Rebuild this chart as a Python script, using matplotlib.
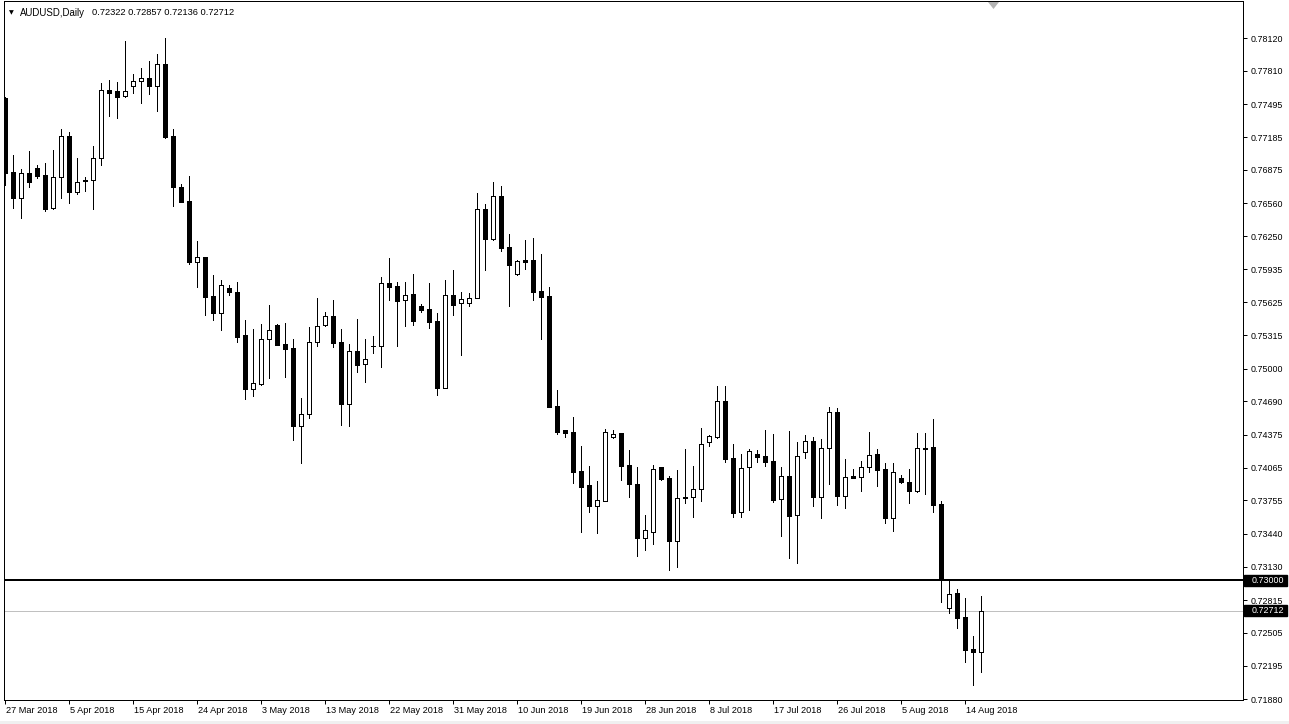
import matplotlib
matplotlib.use('Agg')
import matplotlib.pyplot as plt
from matplotlib.transforms import blended_transform_factory
import matplotlib.transforms as mtransforms
from matplotlib.patches import Rectangle, Polygon
import numpy as np

# ---- data (AUDUSD daily OHLC) ----
opens = [0.77551, 0.76853, 0.76607, 0.76843, 0.76893, 0.76824, 0.76513, 0.76805, 0.77195, 0.76669,
         0.76770, 0.76777, 0.76985, 0.77629, 0.77620, 0.77570, 0.77664, 0.77712, 0.77740, 0.77664,
         0.77875, 0.77192, 0.76714, 0.76582, 0.76009, 0.76053, 0.75685, 0.75527, 0.75760, 0.75720,
         0.75314, 0.74810, 0.74857, 0.75276, 0.75408, 0.75229, 0.75191, 0.74460, 0.74568, 0.75248,
         0.75414, 0.75493, 0.75248, 0.74668, 0.75163, 0.75040, 0.75215, 0.75216, 0.75805, 0.75780,
         0.75650, 0.75704, 0.75590, 0.75559, 0.75446, 0.74819, 0.75691, 0.75616, 0.75616, 0.75663,
         0.76503, 0.76226, 0.76629, 0.76144, 0.75895, 0.76027, 0.76025, 0.75732, 0.75685, 0.74646,
         0.74420, 0.74398, 0.74033, 0.73901, 0.73705, 0.73752, 0.74357, 0.74395, 0.74089, 0.73910,
         0.73403, 0.73460, 0.74068, 0.73964, 0.73375, 0.73787, 0.73784, 0.73860, 0.74309, 0.74357,
         0.74691, 0.74153, 0.73643, 0.74068, 0.74193, 0.74174, 0.74127, 0.73766, 0.73983, 0.73620,
         0.74209, 0.74313, 0.73790, 0.74247, 0.74587, 0.73800, 0.73983, 0.73973, 0.74068, 0.74193,
         0.74049, 0.73592, 0.73964, 0.73929, 0.73847, 0.74243, 0.74259, 0.73721, 0.72737, 0.72881,
         0.72655, 0.72352, 0.72322]
highs = [0.77566, 0.77016, 0.76881, 0.77054, 0.76921, 0.76943, 0.77063, 0.77261, 0.77233, 0.76992,
         0.76811, 0.77101, 0.77693, 0.77724, 0.77708, 0.78092, 0.77780, 0.77837, 0.77903, 0.77969,
         0.78120, 0.77261, 0.76742, 0.76818, 0.76207, 0.76053, 0.75883, 0.75836, 0.75789, 0.75814,
         0.75458, 0.75373, 0.75418, 0.75600, 0.75418, 0.75430, 0.75279, 0.74722, 0.75389, 0.75663,
         0.75531, 0.75644, 0.75373, 0.75229, 0.75465, 0.75279, 0.75310, 0.75864, 0.76044, 0.75814,
         0.75814, 0.75892, 0.75612, 0.75807, 0.75524, 0.75836, 0.75930, 0.75723, 0.75710, 0.76657,
         0.76553, 0.76758, 0.76723, 0.76270, 0.76022, 0.76213, 0.76229, 0.76081, 0.75770, 0.74797,
         0.74420, 0.74543, 0.74269, 0.74080, 0.73938, 0.74429, 0.74420, 0.74395, 0.74231, 0.74068,
         0.73617, 0.74089, 0.74068, 0.73986, 0.74042, 0.74240, 0.74080, 0.74436, 0.74373, 0.74835,
         0.74835, 0.74288, 0.74193, 0.74240, 0.74231, 0.74420, 0.74382, 0.74068, 0.74410, 0.74309,
         0.74373, 0.74351, 0.74332, 0.74634, 0.74625, 0.74146, 0.74052, 0.74127, 0.74401, 0.74240,
         0.74111, 0.74111, 0.73992, 0.74049, 0.74392, 0.74392, 0.74524, 0.73750, 0.73004, 0.72919,
         0.72836, 0.72475, 0.72857]
lows = [0.76733, 0.76518, 0.76418, 0.76717, 0.76796, 0.76490, 0.76510, 0.76613, 0.76565, 0.76648,
        0.76676, 0.76506, 0.76921, 0.77387, 0.77368, 0.77566, 0.77604, 0.77510, 0.77589, 0.77434,
        0.77179, 0.76537, 0.76575, 0.75984, 0.75773, 0.75505, 0.75458, 0.75364, 0.75694, 0.75251,
        0.74713, 0.74744, 0.74845, 0.74914, 0.75225, 0.74923, 0.74328, 0.74111, 0.74536, 0.75213,
        0.75402, 0.75203, 0.74470, 0.74460, 0.74970, 0.74876, 0.75150, 0.75017, 0.75647, 0.75216,
        0.75404, 0.75414, 0.75537, 0.75385, 0.74750, 0.74819, 0.75508, 0.75128, 0.75590, 0.75663,
        0.75933, 0.76213, 0.76113, 0.75590, 0.75886, 0.75940, 0.75647, 0.75279, 0.74640, 0.74382,
        0.74357, 0.73922, 0.73460, 0.73649, 0.73450, 0.73752, 0.74341, 0.73948, 0.73790, 0.73233,
        0.73287, 0.73344, 0.73948, 0.73098, 0.73129, 0.73733, 0.73601, 0.73752, 0.74272, 0.74341,
        0.74121, 0.73596, 0.73601, 0.73665, 0.74121, 0.74083, 0.73743, 0.73422, 0.73214, 0.73167,
        0.74158, 0.73702, 0.73592, 0.73910, 0.73712, 0.73686, 0.73970, 0.73847, 0.74026, 0.73894,
        0.73545, 0.73469, 0.73922, 0.73733, 0.73837, 0.73816, 0.73649, 0.72799, 0.72695, 0.72554,
        0.72233, 0.72013, 0.72136]
closes = [0.76849, 0.76607, 0.76843, 0.76758, 0.76820, 0.76506, 0.76808, 0.77195, 0.76669, 0.76758,
          0.76776, 0.76987, 0.77627, 0.77604, 0.77566, 0.77620, 0.77712, 0.77740, 0.77664, 0.77875,
          0.77189, 0.76711, 0.76575, 0.76009, 0.76053, 0.75678, 0.75527, 0.75786, 0.75720, 0.75298,
          0.74810, 0.74861, 0.75276, 0.75361, 0.75225, 0.75187, 0.74460, 0.74568, 0.75248, 0.75399,
          0.75493, 0.75244, 0.74668, 0.75163, 0.75036, 0.75087, 0.75210, 0.75805, 0.75773, 0.75640,
          0.75691, 0.75452, 0.75555, 0.75442, 0.74819, 0.75691, 0.75603, 0.75654, 0.75666, 0.76503,
          0.76226, 0.76626, 0.76141, 0.75980, 0.76015, 0.76009, 0.75723, 0.75675, 0.74640, 0.74404,
          0.74395, 0.74023, 0.73884, 0.73705, 0.73756, 0.74398, 0.74380, 0.74083, 0.73913, 0.73403,
          0.73473, 0.74049, 0.73957, 0.73375, 0.73775, 0.73775, 0.73860, 0.74285, 0.74363, 0.74691,
          0.74146, 0.73639, 0.74058, 0.74222, 0.74168, 0.74121, 0.73759, 0.73983, 0.73611, 0.74171,
          0.74313, 0.73790, 0.74247, 0.74587, 0.73800, 0.73979, 0.73970, 0.74068, 0.74184, 0.74042,
          0.73592, 0.74023, 0.73932, 0.73847, 0.74247, 0.74253, 0.73715, 0.73005, 0.72872, 0.72648,
          0.72343, 0.72321, 0.72712]

date_labels = ['27 Mar 2018', '5 Apr 2018', '15 Apr 2018', '24 Apr 2018', '3 May 2018',
               '13 May 2018', '22 May 2018', '31 May 2018', '10 Jun 2018', '19 Jun 2018',
               '28 Jun 2018', '8 Jul 2018', '17 Jul 2018', '26 Jul 2018', '5 Aug 2018',
               '14 Aug 2018']
date_bar_index = [0, 8, 16, 24, 32, 40, 48, 56, 64, 72, 80, 88, 96, 104, 112, 120]

price_ticks = [0.78120, 0.77810, 0.77495, 0.77185, 0.76875, 0.76560, 0.76250, 0.75935,
               0.75625, 0.75315, 0.75000, 0.74690, 0.74375, 0.74065, 0.73755, 0.73440,
               0.73130, 0.72815, 0.72505, 0.72195, 0.71880]

level_line = 0.73000
bid_price = 0.72712
symbol_title = 'AUDUSD,Daily'
header_values = '0.72322 0.72857 0.72136 0.72712'

# ---- figure ----
W, H = 1289, 724
plt.rcParams['font.family'] = ['Liberation Sans', 'DejaVu Sans']
fig = plt.figure(figsize=(W / 100, H / 100), dpi=100)
fig.patch.set_facecolor('white')

ax_left, ax_right, ax_top, ax_bottom = 4, 1243, 1, 700
ax = fig.add_axes([ax_left / W, (H - ax_bottom) / H, (ax_right - ax_left) / W, (ax_bottom - ax_top) / H])
ax.set_facecolor('white')

o = np.array(opens); h = np.array(highs); l = np.array(lows); c = np.array(closes)
x = np.arange(len(o))
LW = 0.72  # 1 pixel

ax.vlines(x, l, h, color='black', linewidth=LW, zorder=2, antialiased=False)
bottoms = np.minimum(o, c)
heights = np.maximum(np.abs(c - o), 0.000004)
colors = ['white' if cc >= oo else 'black' for oo, cc in zip(o, c)]
ax.bar(x, heights, bottom=bottoms, width=0.5, color=colors, edgecolor='black',
       linewidth=LW, zorder=3, antialiased=False)

ax.axhline(level_line, color='black', linewidth=1.44, zorder=4, antialiased=False)
ax.axhline(bid_price, color='#c0c0c0', linewidth=LW, zorder=1, antialiased=False)

px_per_bar = 8.0
x0 = -1.3 / px_per_bar
ax.set_xlim(x0, x0 + (ax_right - ax_left) / px_per_bar)
ax.set_ylim(0.78479 - 0.0000944 * ax_bottom, 0.78479 - 0.0000944 * ax_top)

ax.yaxis.tick_right()
ax.set_yticks(price_ticks)
ax.set_yticklabels(['%.5f' % v for v in price_ticks])
ax.tick_params(axis='y', direction='out', length=3, width=LW, pad=2.5, labelsize=6.4, colors='black')

ax.set_xticks(date_bar_index)
ax.set_xticklabels(date_labels, ha='left')
ax.tick_params(axis='x', direction='out', length=3, width=LW, pad=1.5, labelsize=6.6, colors='black')
offset = mtransforms.ScaledTranslation(1.0 / 100, 0, fig.dpi_scale_trans)
for lab in ax.get_xticklabels():
    lab.set_transform(lab.get_transform() + offset)

for s in ax.spines.values():
    s.set_linewidth(LW)
    s.set_color('black')

# price label boxes on right axis
bt = blended_transform_factory(fig.transFigure, ax.transData)
box_h = 11 * 0.0000944
for val in [level_line, bid_price]:
    r = Rectangle((1244 / W, val - box_h / 2), 43 / W, box_h, transform=bt,
                  facecolor='black', edgecolor='black', zorder=10)
    fig.add_artist(r)
    fig.text(1252 / W, val, '%.5f' % val, transform=bt, color='white', fontsize=6.4,
             va='center', ha='left', zorder=11)

# header
fig.text(11 / W, 1 - 12.5 / H, '\u25BC', fontsize=4.5, family='DejaVu Sans', va='center', ha='center')
fig.text(20 / W, 1 - 12.5 / H, symbol_title, fontsize=6.9, va='center', ha='left')
fig.text(91.5 / W, 1 - 12.5 / H, header_values, fontsize=6.7, va='center', ha='left')

# chart shift marker (small gray triangle at top)
tri = Polygon([[988 / W, 1 - 2 / H], [999 / W, 1 - 2 / H], [993.5 / W, 1 - 9 / H]],
              closed=True, transform=fig.transFigure, facecolor='#b4b4b4', edgecolor='none')
fig.add_artist(tri)

# bottom window strip
fig.add_artist(Rectangle((0, 0), 1, 3 / H, transform=fig.transFigure,
                         facecolor='#f0f0f0', edgecolor='none'))

fig.savefig('out.png', dpi=100)
